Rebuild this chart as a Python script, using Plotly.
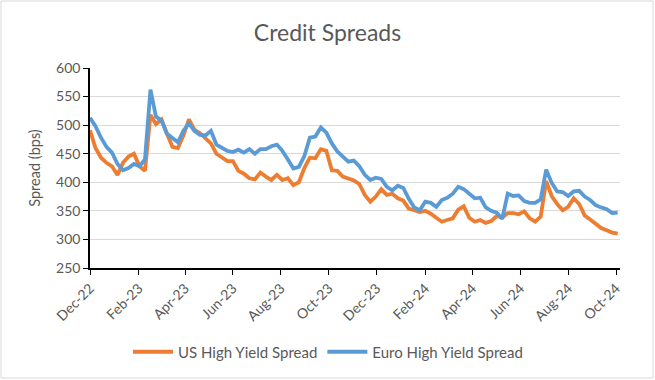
import pandas as pd
import plotly.graph_objects as go

# Weekly observation dates (Dec 2022 - Oct 2024)
dates = pd.date_range("2022-12-01", periods=97, freq="7D")

us_hy = [491, 460, 443, 434, 428, 413, 434, 445, 450, 428,
         420, 518, 502, 510, 485, 462, 460, 482, 510, 492,
         486, 478, 468, 450, 443, 437, 437, 420, 415, 407,
         405, 417, 410, 404, 413, 404, 407, 395, 400, 425,
         443, 442, 458, 455, 421, 420, 410, 406, 403, 397,
         378, 366, 375, 388, 378, 380, 372, 368, 354, 351,
         348, 350, 345, 338, 331, 334, 337, 352, 358, 338,
         331, 334, 329, 332, 341, 338, 346, 346, 344, 349,
         337, 331, 340, 402, 376, 362, 351, 357, 372, 362,
         342, 335, 327, 320, 316, 312, 310]

euro_hy = [513, 498, 478, 462, 452, 432, 421, 425, 432, 428,
           440, 562, 515, 508, 485, 478, 470, 490, 503, 490,
           483, 482, 490, 466, 460, 455, 453, 457, 452, 458,
           450, 458, 458, 463, 466, 455, 440, 424, 427, 446,
           478, 480, 496, 487, 468, 454, 445, 436, 438, 428,
           413, 404, 408, 406, 392, 386, 394, 390, 371, 356,
           351, 366, 364, 357, 369, 373, 380, 392, 388, 381,
           372, 373, 356, 350, 347, 336, 380, 376, 377, 367,
           364, 364, 370, 422, 399, 384, 383, 376, 384, 385,
           375, 369, 360, 356, 353, 346, 347]

tick_dates = ["2022-12-01", "2023-02-01", "2023-04-01", "2023-06-01", "2023-08-01",
              "2023-10-01", "2023-12-01", "2024-02-01", "2024-04-01", "2024-06-01",
              "2024-08-01", "2024-10-01"]
tick_labels = ["Dec-22", "Feb-23", "Apr-23", "Jun-23", "Aug-23", "Oct-23",
               "Dec-23", "Feb-24", "Apr-24", "Jun-24", "Aug-24", "Oct-24"]
y_ticks = [250, 300, 350, 400, 450, 500, 550, 600]

FONT = "Lato, Carlito, Calibri, sans-serif"
GREY = "#595959"

fig = go.Figure()
fig.add_trace(go.Scatter(x=dates, y=us_hy, mode="lines", name="US High Yield Spread",
                         line=dict(color="#ED7D31", width=3.8)))
fig.add_trace(go.Scatter(x=dates, y=euro_hy, mode="lines", name="Euro High Yield Spread",
                         line=dict(color="#5B9BD5", width=3.8)))

fig.update_layout(
    width=655, height=380,
    margin=dict(l=90, r=35, t=68, b=112),
    paper_bgcolor="white", plot_bgcolor="white",
    font=dict(family=FONT, color=GREY, size=14),
    title=dict(text="Credit Spreads", x=0.5, xanchor="center", y=1 - 33 / 380, yanchor="middle",
               font=dict(family=FONT, size=23, color=GREY)),
    showlegend=True,
    legend=dict(orientation="h", x=(328 - 90) / 530, xanchor="center", y=-0.42, yanchor="middle",
                font=dict(family=FONT, size=15, color=GREY), itemwidth=40,
                bgcolor="rgba(0,0,0,0)"),
    xaxis=dict(type="date", range=["2022-12-01", "2024-10-06"],
               tickvals=tick_dates, ticktext=tick_labels, tickangle=-45,
               showgrid=False, showline=True, linecolor="#000000", linewidth=1.5,
               ticks="outside", ticklen=5, tickcolor="#000000",
               tickfont=dict(family=FONT, size=14, color=GREY), zeroline=False),
    yaxis=dict(range=[250, 600], tickvals=y_ticks,
               showgrid=True, gridcolor="#d9d9d9", gridwidth=1.2,
               showline=True, linecolor="#000000", linewidth=1.5,
               ticks="outside", ticklen=5, tickcolor="#000000",
               tickfont=dict(family=FONT, size=14, color=GREY), zeroline=False,
               title=dict(text="Spread (bps)", font=dict(family=FONT, size=14.5, color=GREY),
                          standoff=12)),
    shapes=[dict(type="rect", xref="paper", yref="paper",
                 x0=(1 - 90) / 530, x1=(653 - 90) / 530,
                 y0=(268 - 378) / 200, y1=(268 - 1) / 200,
                 line=dict(color="#d9d9d9", width=1), layer="below")],
)

fig.write_html("out.html", config={"displayModeBar": False},
               post_script="document.body.style.margin='0';document.body.style.padding='0';"
                           "document.documentElement.style.overflow='hidden';")
